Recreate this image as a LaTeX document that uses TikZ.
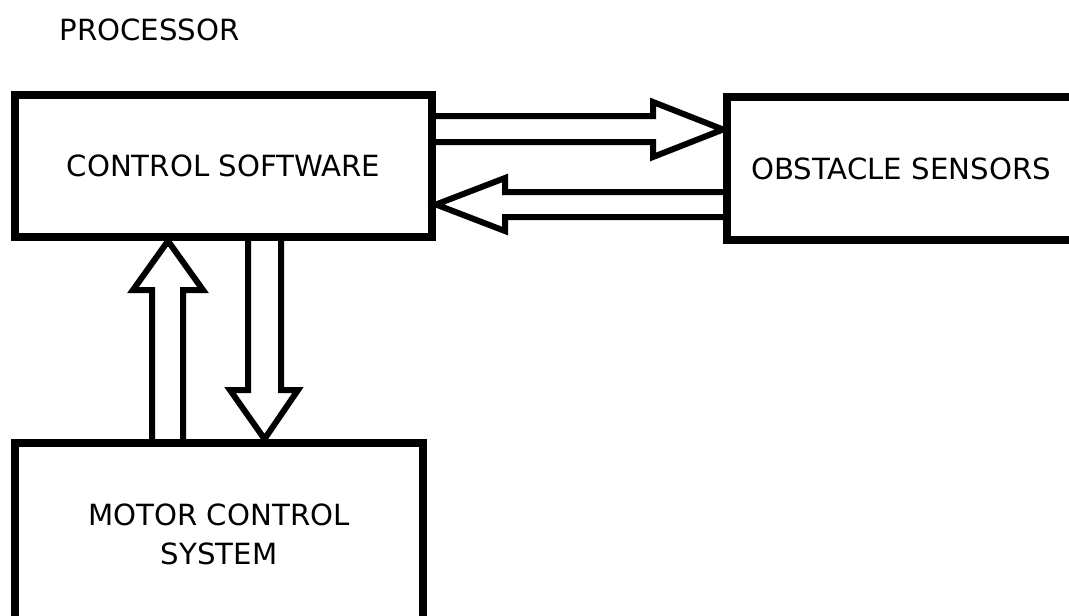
\documentclass[tikz,border=0pt]{standalone}
\usepackage{fontspec}
\setmainfont{DejaVu Sans}
\begin{document}
\begin{tikzpicture}[x=1pt,y=-1pt,
  lbl/.style={font=\fontsize{29.2}{39}\selectfont, align=center, inner sep=0pt},
  box/.style={lbl, draw=black, line width=8pt},
  arr/.style={draw=black, line width=6pt, line join=miter}]
\useasboundingbox (0,0) rectangle (1069,616);
\clip (0,0) rectangle (1069,616);
\node[lbl] (proc) at (149.5,29.5) {PROCESSOR};
\node[box, minimum width=417pt, minimum height=142pt] (cs) at (223.5,166) {CONTROL SOFTWARE};
\node[box, minimum width=348pt, minimum height=143pt] (os) at (901,168.5) {OBSTACLE SENSORS};
\node[box, minimum width=408pt, minimum height=182pt] (mc) at (219,534) {MOTOR CONTROL\\SYSTEM};
% control software -> obstacle sensors
\draw[arr] (cs.east |- 0,116) -- (653,116) -- (653,102) -- (os.west |- 0,129.5)
  -- (653,157) -- (653,142) -- (cs.east |- 0,142);
% obstacle sensors -> control software
\draw[arr] (os.west |- 0,192) -- (505,192) -- (505,178) -- (cs.east |- 0,204.5)
  -- (505,231) -- (505,217) -- (os.west |- 0,217);
% motor control -> control software
\draw[arr] (152,0 |- mc.north) -- (152,290) -- (133,290) -- (168,0 |- cs.south)
  -- (203,290) -- (183,290) -- (183,0 |- mc.north);
% control software -> motor control
\draw[arr] (248,0 |- cs.south) -- (248,390) -- (230,390) -- (264.5,0 |- mc.north)
  -- (298,390) -- (281,390) -- (281,0 |- cs.south);
\end{tikzpicture}
\end{document}
